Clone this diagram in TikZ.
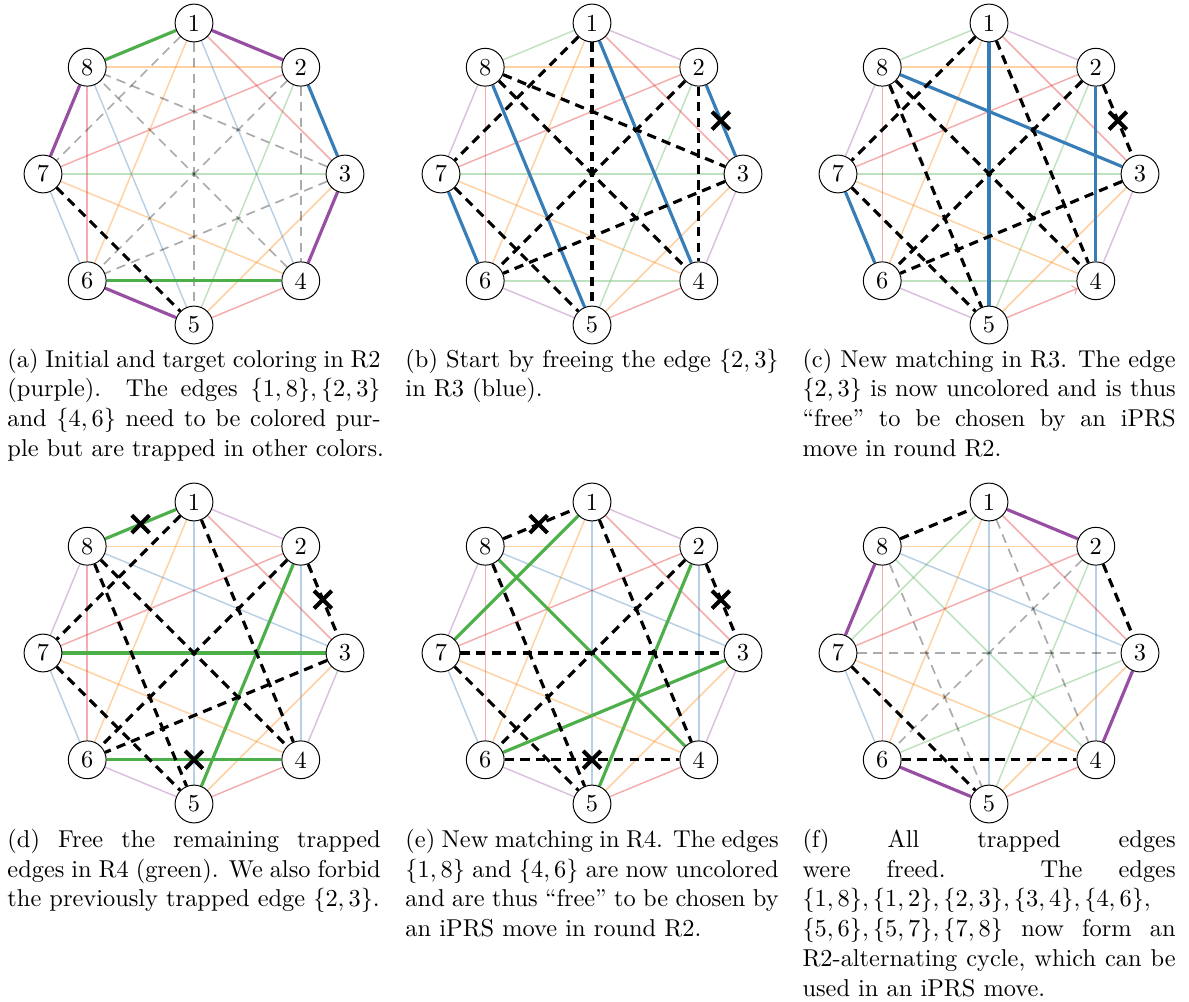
\documentclass[tikz,border=0pt]{standalone}
\usetikzlibrary{calc,shapes.misc}
\pgfdeclarelayer{bg}
\pgfsetlayers{bg,main}
\definecolor{cpur}{RGB}{152,78,163}
\definecolor{cblu}{RGB}{55,126,184}
\definecolor{cgrn}{RGB}{77,175,74}
\definecolor{cora}{RGB}{255,127,0}
\definecolor{cred}{RGB}{228,26,28}
\tikzset{
  vtx/.style={circle,draw,fill=white,minimum size=15.5pt,inner sep=0pt,line width=0.4pt,font=\fontsize{10}{12}\selectfont},
  light/.style={line width=0.6pt,draw opacity=0.36},
  lpur/.style={light,cpur},
  lblu/.style={light,cblu},
  lgrn/.style={light,cgrn},
  lora/.style={light,cora},
  lred/.style={light,cred},
  thk/.style={line width=1.3pt},
  tpur/.style={thk,cpur},
  tblu/.style={thk,cblu},
  tgrn/.style={thk,cgrn},
  gdash/.style={line width=0.7pt,black,draw opacity=0.33,dash pattern=on 3.8pt off 2.6pt},
  bdash/.style={line width=1.3pt,black,dash pattern=on 3.8pt off 2.6pt},
  xmark/.style={cross out,draw,black,line width=1.7pt,minimum size=5.5pt,inner sep=0pt},
  capl/.style={inner sep=0pt,anchor=base west,font=\fontsize{10}{12}\selectfont}
}
\newcommand\mkvert[3]{%
  \foreach \k in {1,...,8}{%
    \node[vtx] (#1\k) at ({#2+151*cos(90-45*(\k-1))},{#3-151*sin(90-45*(\k-1))}) {\k};}}
\newcommand\mkedges[3]{%
  \begin{pgfonlayer}{bg}
  \foreach \u/\v in {#3}{\draw[#2] (#1\u) -- (#1\v);}
  \end{pgfonlayer}}
\newcommand\mkx[3]{\node[xmark] (#1x#2#3) at ($(#1#2)!0.5!(#1#3)$) {};}
\newcommand\jl[1]{\makebox[153pt][s]{#1}}
\begin{document}
\begin{tikzpicture}[x=0.41pt,y=-0.41pt]
\useasboundingbox (0,0) rectangle (1189,1001);

% ---------- (a)
\mkvert{a}{194}{174}
\mkedges{a}{lora}{1/6,2/8,4/7,3/5}
\mkedges{a}{lred}{1/3,2/7,6/8,4/5}
\mkedges{a}{lblu}{1/4,5/8,6/7}
\mkedges{a}{lgrn}{2/5,3/7}
\mkedges{a}{gdash}{1/7,1/5,3/8,4/8,2/6,2/4,3/6}
\mkedges{a}{tpur}{1/2,3/4,5/6,7/8}
\mkedges{a}{tgrn}{1/8,4/6}
\mkedges{a}{tblu}{2/3}
\mkedges{a}{bdash}{7/5}

% ---------- (b)
\mkvert{b}{592}{174}
\mkedges{b}{lpur}{1/2,7/8,3/4,5/6}
\mkedges{b}{lgrn}{1/8,3/7,4/6,2/5}
\mkedges{b}{lora}{2/8,1/6,4/7,3/5}
\mkedges{b}{lred}{1/3,2/7,6/8,4/5}
\mkedges{b}{tblu}{1/4,5/8,6/7,2/3}
\mkedges{b}{bdash}{1/7,1/5,8/3,8/4,2/6,2/4,3/6,7/5}
\mkx{b}{2}{3}

% ---------- (c)
\mkvert{c}{989}{174}
\mkedges{c}{lpur}{1/2,7/8,3/4,5/6}
\mkedges{c}{lgrn}{1/8,3/7,4/6,2/5}
\mkedges{c}{lora}{2/8,1/6,4/7,3/5}
\mkedges{c}{lred}{1/3,2/7,6/8}
\mkedges{c}{lred,->}{5/4}
\mkedges{c}{tblu}{1/5,8/3,6/7,2/4}
\mkedges{c}{bdash}{1/7,1/4,8/5,8/4,2/6,2/3,3/6,7/5}
\mkx{c}{2}{3}

% ---------- (d)
\mkvert{d}{194}{653}
\mkedges{d}{lpur}{1/2,7/8,3/4,5/6}
\mkedges{d}{lblu}{1/5,8/3,6/7,2/4}
\mkedges{d}{lora}{2/8,1/6,4/7,3/5}
\mkedges{d}{lred}{1/3,2/7,6/8,4/5}
\mkedges{d}{tgrn}{1/8,7/3,2/5,6/4}
\mkedges{d}{bdash}{1/7,1/4,8/5,8/4,2/6,2/3,3/6,7/5}
\mkx{d}{1}{8}
\mkx{d}{2}{3}
\mkx{d}{4}{6}

% ---------- (e)
\mkvert{e}{592}{653}
\mkedges{e}{lpur}{1/2,7/8,3/4,5/6}
\mkedges{e}{lblu}{1/5,8/3,6/7,2/4}
\mkedges{e}{lora}{2/8,1/6,4/7,3/5}
\mkedges{e}{lred}{1/3,2/7,6/8,4/5}
\mkedges{e}{tgrn}{1/7,8/4,2/5,3/6}
\mkedges{e}{bdash}{8/1,1/4,8/5,7/3,2/6,2/3,6/4,7/5}
\mkx{e}{1}{8}
\mkx{e}{2}{3}
\mkx{e}{4}{6}

% ---------- (f)
\mkvert{f}{989}{653}
\mkedges{f}{lgrn}{1/7,8/4,2/5,3/6}
\mkedges{f}{lblu}{1/5,8/3,6/7,2/4}
\mkedges{f}{lora}{2/8,1/6,4/7,3/5}
\mkedges{f}{lred}{1/3,2/7,6/8,4/5}
\mkedges{f}{gdash}{1/4,8/5,7/3,2/6}
\mkedges{f}{tpur}{1/2,7/8,3/4,5/6}
\mkedges{f}{bdash}{8/1,2/3,6/4,7/5}

% ---------- captions
\node[capl] (ca1) at (7,367)   {\jl{(a) Initial and target coloring in R2}};
\node[capl] (ca2) at (7,396.7) {\jl{(purple). The edges $\{1,8\},\{2,3\}$}};
\node[capl] (ca3) at (7,426.4) {\jl{and $\{4,6\}$ need to be colored pur-}};
\node[capl] (ca4) at (7,456.1) {ple but are trapped in other colors.};

\node[capl] (cb1) at (405,367)   {\jl{(b) Start by freeing the edge $\{2,3\}$}};
\node[capl] (cb2) at (405,396.7) {in R3 (blue).};

\node[capl] (cc1) at (802,367)   {\jl{(c) New matching in R3. The edge}};
\node[capl] (cc2) at (802,396.7) {\jl{$\{2,3\}$ is now uncolored and is thus}};
\node[capl] (cc3) at (802,426.4) {\jl{``free'' to be chosen by an iPRS}};
\node[capl] (cc4) at (802,456.1) {move in round R2.};

\node[capl] (cd1) at (7,847.5) {\jl{(d) Free the remaining trapped}};
\node[capl] (cd2) at (7,877.2) {\jl{edges in R4 (green). We also forbid}};
\node[capl] (cd3) at (7,906.9) {the previously trapped edge $\{2,3\}$.};

\node[capl] (ce1) at (405,847.5) {\jl{(e) New matching in R4. The edges}};
\node[capl] (ce2) at (405,877.2) {\jl{$\{1,8\}$ and $\{4,6\}$ are now uncolored}};
\node[capl] (ce3) at (405,906.9) {\jl{and are thus ``free'' to be chosen by}};
\node[capl] (ce4) at (405,936.6) {an iPRS move in round R2.};

\node[capl] (cf1) at (802,847.5) {\jl{(f) All trapped edges}};
\node[capl] (cf2) at (802,877.2) {\jl{were freed. The edges}};
\node[capl] (cf3) at (802,906.9) {$\{1,8\},\{1,2\},\{2,3\},\{3,4\},\{4,6\},$};
\node[capl] (cf4) at (802,936.6) {\jl{$\{5,6\},\{5,7\},\{7,8\}$ now form an}};
\node[capl] (cf5) at (802,966.3) {\jl{R2-alternating cycle, which can be}};
\node[capl] (cf6) at (802,996)   {used in an iPRS move.};
\end{tikzpicture}
\end{document}
